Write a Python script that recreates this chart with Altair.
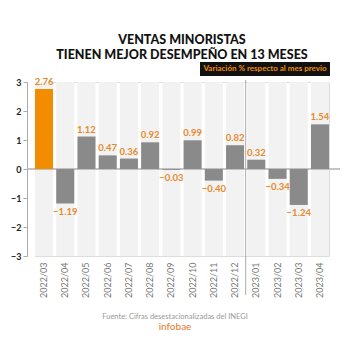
import altair as alt
import pandas as pd

months = ["2022/03", "2022/04", "2022/05", "2022/06", "2022/07", "2022/08", "2022/09",
          "2022/10", "2022/11", "2022/12", "2023/01", "2023/02", "2023/03", "2023/04"]
values = [2.76, -1.19, 1.12, 0.47, 0.36, 0.92, -0.03, 0.99, -0.40, 0.82, 0.32, -0.34, -1.24, 1.54]
highlight = [True] + [False] * 13
y_ticks = [-3, -2, -1, 0, 1, 2, 3]

title_lines = ["VENTAS MINORISTAS", "TIENEN MEJOR DESEMPEÑO EN 13 MESES"]
legend_text = "Variación % respecto al mes previo"
source_text = "Fuente: Cifras desestacionalizadas del INEGI"
brand_text = "infobae"

df = pd.DataFrame({"mes": months, "valor": values, "hl": highlight})
df["top"] = 3
df["bottom"] = -3

FONT = "Lato"
ORANGE = "#f28c00"
LABEL_ORANGE = "#e8892b"

xscale = alt.Scale(domain=months, paddingInner=0.15, paddingOuter=0)
yscale = alt.Scale(domain=[-3, 3], nice=False)

xaxis = alt.Axis(title=None, labelAngle=270, domain=False, ticks=False,
                 labelColor="#777777", labelFont=FONT, labelFontSize=9, labelPadding=6)
yaxis = alt.Axis(title=None, values=y_ticks, grid=False, offset=8,
                 domainColor="#aaaaaa", tickColor="#aaaaaa", tickSize=4,
                 labelColor="#222222", labelFont=FONT, labelFontSize=9,
                 labelFontWeight="bold", labelPadding=2, labelOverlap=False,
                 labelFlush=False)


def X(field, **kw):
    return alt.X(field, type="nominal", scale=xscale, sort=months, axis=xaxis, **kw)


def Y(field):
    return alt.Y(field, type="quantitative", scale=yscale, axis=yaxis)


base = alt.Chart(df)

bg = base.mark_bar(color="#f2f2f2").encode(
    x=X("mes"), y=Y("top"), y2="bottom:Q",
)

bars = base.mark_bar().encode(
    x=X("mes"),
    y=Y("valor"),
    y2=alt.datum(0),
    color=alt.condition("datum.hl", alt.value(ORANGE), alt.value("#8a8a8a")),
)

zero = alt.Chart(pd.DataFrame({"z": [0]})).mark_rule(color="#b0b0b0", strokeWidth=1.5).encode(
    y=Y("z"),
    x=alt.value(-8),
    x2=alt.value(305),
)

sep = alt.Chart(pd.DataFrame({"mes": ["2022/12"]})).mark_rule(
    color="#aaaaaa", strokeWidth=1, xOffset=1.6
).encode(
    x=X("mes", bandPosition=1),
    y=alt.value(-2),
    y2=alt.value(213),
)

pos_labels = base.transform_filter("datum.valor >= 0").mark_text(
    baseline="bottom", dy=-2, font=FONT, fontSize=9.5, fontWeight="bold", color=LABEL_ORANGE
).encode(
    x=X("mes"), y=Y("valor"),
    text=alt.Text("valor:Q", format=".2f"),
)

neg_labels = base.transform_filter("datum.valor < 0").mark_text(
    baseline="top", dy=3, font=FONT, fontSize=9.5, fontWeight="bold", color=LABEL_ORANGE
).encode(
    x=X("mes"), y=Y("valor"),
    text=alt.Text("valor:Q", format=".2f"),
)

one = pd.DataFrame({"t": [legend_text]})
legend_box = alt.Chart(one).mark_rect(color="#111111").encode(
    x=alt.value(165), x2=alt.value(295), y=alt.value(-20), y2=alt.value(-6)
)
legend_label = alt.Chart(one).mark_text(
    font=FONT, fontSize=8, fontWeight="bold", color=ORANGE, align="center", baseline="middle"
).encode(x=alt.value(230), y=alt.value(-13), text="t:N")

src = alt.Chart(pd.DataFrame({"t": [source_text]})).mark_text(
    font=FONT, fontSize=7.5, color="#999999", align="center", baseline="middle"
).encode(x=alt.value(140), y=alt.value(235), text="t:N")

brand = alt.Chart(pd.DataFrame({"t": [brand_text]})).mark_text(
    font=FONT, fontSize=10, color="#e8792b", align="center", baseline="middle"
).encode(x=alt.value(140), y=alt.value(245), text="t:N")

chart = alt.layer(
    bg, zero, bars, sep, pos_labels, neg_labels, legend_box, legend_label, src, brand
).properties(
    width=294,
    height=174,
    title=alt.TitleParams(title_lines, font=FONT, fontSize=12.5, fontWeight=900,
                          color="#111111", anchor="middle", offset=1, lineHeight=14.5),
    autosize=alt.AutoSizeParams(type="none"),
    padding={"left": 35, "top": 82, "right": 21, "bottom": 94},
).configure_view(stroke=None).configure(background="white").configure_axisY(labelOverlap=False)

chart.save("out.html", embed_options={"renderer": "svg", "actions": False})
